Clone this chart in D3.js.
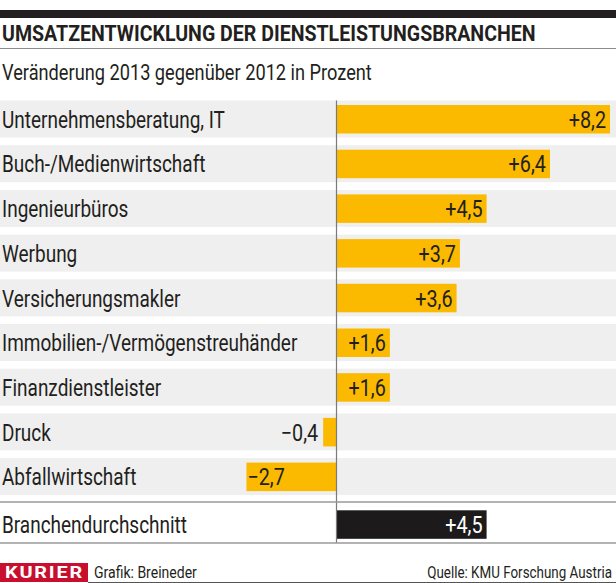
<!DOCTYPE html>
<html><head><meta charset="utf-8">
<script src="https://cdn.jsdelivr.net/npm/d3@7"></script>
<style>
html,body{margin:0;padding:0;background:#fff;}
svg{display:block;}
text{font-family:Roboto,"Open Sans",sans-serif;}
</style></head>
<body>
<div id="chart"></div>
<script>
const categories = ["Unternehmensberatung, IT","Buch-/Medienwirtschaft","Ingenieurbüros","Werbung","Versicherungsmakler","Immobilien-/Vermögenstreuhänder","Finanzdienstleister","Druck","Abfallwirtschaft","Branchendurchschnitt"];
const values = [8.2,6.4,4.5,3.7,3.6,1.6,1.6,-0.4,-2.7,4.5];
const valueLabels = ["+8,2","+6,4","+4,5","+3,7","+3,6","+1,6","+1,6","\u22120,4","\u22122,7","+4,5"];
const title = "UMSATZENTWICKLUNG DER DIENSTLEISTUNGSBRANCHEN";
const subtitle = "Veränderung 2013 gegenüber 2012 in Prozent";
const credit = "Grafik: Breineder";
const source = "Quelle: KMU Forschung Austria";
const brand = "KURIER";

const W = 616, H = 583;
const svg = d3.select("#chart").append("svg").attr("width", W).attr("height", H);

// horizontal compression helper to emulate a condensed face
function condense(sel, factor, x) {
  sel.attr("transform", `translate(${x},0) scale(${factor},1) translate(${-x},0)`);
}

// top black rule
svg.append("rect").attr("x",0).attr("y",10).attr("width",W).attr("height",8).attr("fill","#231f20");
const t = svg.append("text").attr("x",2).attr("y",41).attr("font-size",21.5).attr("font-weight",700).attr("fill","#231f20").text(title);
condense(t, 534 / t.node().getComputedTextLength(), 2);
svg.append("line").attr("x1",0).attr("x2",W).attr("y1",48.5).attr("y2",48.5).attr("stroke","#8c8c8c").attr("stroke-width",1.2);
const st = svg.append("text").attr("x",2).attr("y",80).attr("font-size",22.5).attr("fill","#231f20").text(subtitle);
condense(st, 370 / st.node().getComputedTextLength(), 2);

// scales
const x = d3.scaleLinear().domain([0, 8.2]).range([336.5, 610]);
const y = d3.scaleBand().domain(d3.range(categories.length)).range([100.5, 100.5 + 44.7 * categories.length]).paddingInner(0).paddingOuter(0);
const barH = 28.5, barOff = 4.5, bandH = 37;

const n = categories.length;
const rows = svg.append("g").selectAll("g").data(categories).join("g");

// gray bands (not for the average row)
rows.filter((d,i)=> i < n-1).append("rect")
  .attr("x",0).attr("width",W)
  .attr("y",(d,i)=>y(i)).attr("height",bandH).attr("fill","#efefef");

// bars
rows.append("rect")
  .attr("x",(d,i)=>Math.min(x(0), x(values[i])))
  .attr("width",(d,i)=>Math.abs(x(values[i]) - x(0)))
  .attr("y",(d,i)=>y(i) + barOff + (i===n-1?3:0))
  .attr("height",barH)
  .attr("fill",(d,i)=> i===n-1 ? "#1c1a1a" : "#fbba00");

// category labels
const labelFactor = 0.825;
const fs = 23;
rows.append("text")
  .attr("x",2).attr("y",(d,i)=>y(i) + barOff + (i===n-1?3:0) + barH/2 + 8.5)
  .attr("font-size",fs).attr("fill","#231f20")
  .text(d=>d)
  .each(function(){ condense(d3.select(this), labelFactor, 2); });

// value labels
rows.append("text")
  .attr("y",(d,i)=>y(i) + barOff + (i===n-1?3:0) + barH/2 + 8.5)
  .attr("font-size",fs)
  .attr("fill",(d,i)=> i===n-1 ? "#fff" : "#231f20")
  .each(function(d,i){
    const v = values[i];
    const s = d3.select(this).text(valueLabels[i]);
    let ax, anchor;
    if (v >= 0) { ax = x(v) - 4; anchor = "end"; }
    else if (x(0) - x(v) > 50) { ax = x(v) + 1; anchor = "start"; }
    else { ax = x(v) - 5; anchor = "end"; }
    s.attr("x", ax).attr("text-anchor", anchor);
    condense(s, 0.86, ax);
  });

// zero line
svg.append("line").attr("x1",x(0)).attr("x2",x(0)).attr("y1",100.5).attr("y2",543)
  .attr("stroke","#7a7a7a").attr("stroke-width",1.2);

// lines around the average row
[502, 543].forEach(yy => svg.append("line").attr("x1",0).attr("x2",W).attr("y1",yy).attr("y2",yy)
  .attr("stroke","#9a9a9a").attr("stroke-width",1.5));

// footer
svg.append("rect").attr("x",0).attr("y",563).attr("width",88).attr("height",19).attr("fill","#c8102e");
const k = svg.append("text").attr("x",5).attr("y",578.5).attr("font-family","'Liberation Serif','DejaVu Serif',serif")
  .attr("font-size",17).attr("font-weight",700).attr("fill","#fff").attr("letter-spacing",1.5).text(brand);
condense(k, 79 / k.node().getComputedTextLength(), 5);
const cr = svg.append("text").attr("x",94).attr("y",578.5).attr("font-size",16.5).attr("fill","#231f20").text(credit);
condense(cr, 103 / cr.node().getComputedTextLength(), 94);
const so = svg.append("text").attr("x",612).attr("y",578.5).attr("font-size",16.5).attr("fill","#231f20").attr("text-anchor","end").text(source);
condense(so, 185 / so.node().getComputedTextLength(), 612);
svg.append("line").attr("x1",88).attr("x2",W).attr("y1",582.5).attr("y2",582.5).attr("stroke","#555").attr("stroke-width",1);
</script>
</body></html>
